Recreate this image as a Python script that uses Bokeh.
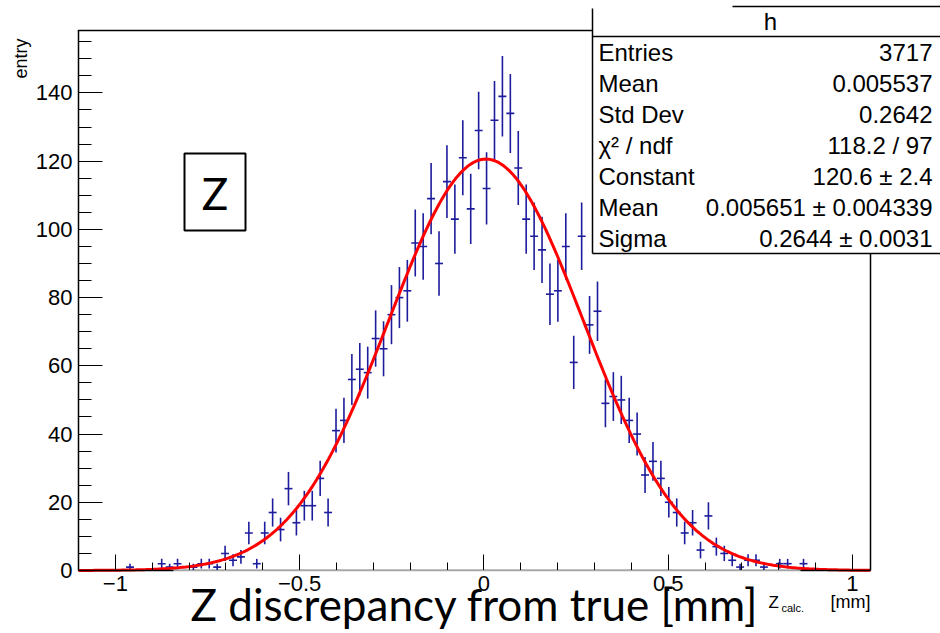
import numpy as np
from bokeh.plotting import figure
from bokeh.models import Range1d, SingleIntervalTicker, Label, BoxAnnotation, ColumnDataSource
from bokeh.embed import file_html
from bokeh.resources import INLINE

# ---------------- data ----------------
bin_low = -1.1
bin_width = 0.0215
counts = [0, 0, 0, 0, 0, 0, 1, 0, 0, 0,
          2, 1, 2, 0, 1, 2, 2, 1, 5, 3,
          4, 11, 2, 11, 17, 12, 24, 14, 19, 19,
          27, 17, 41, 44, 56, 59, 58, 68, 65, 75,
          80, 82, 96, 95, 109, 90, 114, 103, 121, 106,
          129, 112, 132, 139, 134, 118, 103, 98, 94, 81,
          82, 95, 61, 98, 72, 76, 49, 51, 50, 44,
          40, 28, 32, 27, 20, 17, 11, 14, 6, 16,
          7, 5, 3, 1, 3, 3, 1, 0, 2, 2,
          0, 2, 0, 0, 0, 0, 0, 0, 0, 0]
fit_constant = 120.6
fit_mean = 0.005651
fit_sigma = 0.2644

x_ticks = [-1, -0.5, 0, 0.5, 1]
x_tick_labels = ["\u22121", "\u22120.5", "0", "0.5", "1"]

stats_title = "h"
stats_names = ["Entries", "Mean", "Std Dev", "\u03c7\u00b2 / ndf", "Constant", "Mean", "Sigma"]
stats_values = ["3717", "0.005537", "0.2642", "118.2 / 97", "120.6 \u00b1 2.4",
                "0.005651 \u00b1 0.004339", "0.2644 \u00b1 0.0031"]

y_label = "entry"
x_label_main = "Z discrepancy from true [mm]"
x_label_root = "Z"
x_label_root_sub = "calc."
x_label_root_unit = "[mm]"
box_label = "Z"

# ---------------- geometry (reference pixels) ----------------
W, H = 940, 633
FL, FR, FT, FB = 78, 870, 30, 570      # ROOT frame
X0, X1 = -1.1, 1.049                   # histogram axis range
Y0, Y1 = 0.0, 158.3


def xd(px):
    return X0 + (px - FL) / (FR - FL) * (X1 - X0)


def yd(py):
    return Y0 + (FB - py) / (FB - FT) * (Y1 - Y0)


p = figure(width=W, height=H, output_backend="svg", toolbar_location=None,
           x_range=Range1d(xd(0), xd(W)), y_range=Range1d(yd(H), yd(0)),
           min_border=0, min_border_left=0, min_border_right=0,
           min_border_top=0, min_border_bottom=0)
p.background_fill_color = "white"
p.border_fill_color = "white"
p.xgrid.visible = False
p.ygrid.visible = False
p.outline_line_color = None

# ---------------- histogram with error bars ----------------
edges = bin_low + bin_width * np.arange(len(counts) + 1)
centers = 0.5 * (edges[:-1] + edges[1:])
n = np.array(counts, dtype=float)
err = np.sqrt(n)
m = n > 0
src = ColumnDataSource(dict(x=centers[m], y=n[m], lo=(n - err)[m], hi=(n + err)[m],
                            l=edges[:-1][m], r=edges[1:][m]))
blue = "#1c1c9c"
p.segment(x0="x", y0="lo", x1="x", y1="hi", source=src, line_color=blue, line_width=1.6)
p.segment(x0="l", y0="y", x1="r", y1="y", source=src, line_color=blue, line_width=1.6)

# ---------------- gaussian fit ----------------
xf = np.linspace(X0, X1, 400)
yf = fit_constant * np.exp(-0.5 * ((xf - fit_mean) / fit_sigma) ** 2)
p.line(xf, yf, line_color="red", line_width=3)

# ---------------- axes (placed on the ROOT frame) ----------------
for ax in (p.xaxis[0], p.yaxis[0]):
    ax.axis_line_color = "black"
    ax.axis_line_width = 1.5
    ax.major_tick_line_color = "black"
    ax.minor_tick_line_color = "black"
    ax.major_tick_out = 0
    ax.minor_tick_out = 0
    ax.major_label_text_font = "Liberation Sans"
    ax.major_label_text_font_size = "22px"
    ax.major_label_text_color = "black"

p.xaxis.fixed_location = Y0
p.xaxis.bounds = (X0, X1)
p.xaxis.ticker = SingleIntervalTicker(interval=0.5, num_minor_ticks=5)
p.xaxis.major_tick_in = 16
p.xaxis.minor_tick_in = 8
p.xaxis.major_label_standoff = 5
p.xaxis.major_label_overrides = dict(zip(x_ticks, x_tick_labels))

p.yaxis.fixed_location = X0
p.yaxis.bounds = (Y0, Y1)
p.yaxis.ticker = SingleIntervalTicker(interval=20, num_minor_ticks=4)
p.yaxis.major_tick_in = 24
p.yaxis.minor_tick_in = 13
p.yaxis.major_label_standoff = 6


# ---------------- annotations ----------------
def hline(x0, x1, y, w=1.5, color="black", alpha=1.0):
    p.add_layout(BoxAnnotation(left=xd(x0), right=xd(x1), top=yd(y - w / 2), bottom=yd(y + w / 2),
                               fill_color=color, fill_alpha=alpha, line_alpha=0))


def vline(x, y0, y1, w=1.5):
    p.add_layout(BoxAnnotation(left=xd(x - w / 2), right=xd(x + w / 2), top=yd(y0), bottom=yd(y1),
                               fill_color="black", fill_alpha=1, line_alpha=0))


# ROOT frame (top and right)
hline(FL - 0.75, FR + 0.75, FT)
vline(FR, FT, FB)

# pasted title box edge that greys the x axis line
hline(173, 800, 570.6, w=2.2, color="white", alpha=0.65)

# stats box
p.add_layout(BoxAnnotation(left=xd(592), right=xd(960), top=yd(-5), bottom=yd(253),
                           fill_color="white", fill_alpha=1, line_alpha=0))
hline(732, 960, 6)
vline(592, 8, 253)
hline(592, 960, 36)
hline(592, 960, 253)
font_stats = "24px"
p.add_layout(Label(x=xd(770), y=yd(21), text=stats_title, text_align="center", text_baseline="middle",
                   text_font="Liberation Sans", text_font_size=font_stats, text_color="black"))
row_top, row_h = 36, 31
for i, (nm, val) in enumerate(zip(stats_names, stats_values)):
    cy = row_top + row_h * (i + 0.5)
    p.add_layout(Label(x=xd(598), y=yd(cy), text=nm, text_align="left", text_baseline="middle",
                       text_font="Liberation Sans", text_font_size=font_stats, text_color="black"))
    p.add_layout(Label(x=xd(932), y=yd(cy), text=val, text_align="right", text_baseline="middle",
                       text_font="Liberation Sans", text_font_size=font_stats, text_color="black"))

# "Z" box
p.add_layout(BoxAnnotation(left=xd(184), right=xd(245), top=yd(153), bottom=yd(230),
                           fill_color="white", fill_alpha=1, line_color="black", line_alpha=1,
                           line_width=2))
p.add_layout(Label(x=xd(214.5), y=yd(192), text=box_label, text_align="center", text_baseline="middle",
                   text_font="Lato", text_font_size="44px", text_color="black"))

# y axis title
p.add_layout(Label(x=xd(20), y=yd(38), text=y_label, angle=np.pi / 2, text_align="right",
                   text_baseline="middle", text_font="Liberation Sans", text_font_size="18px",
                   text_color="black"))

# small ROOT x axis title  Z_calc. [mm]
p.add_layout(Label(x=xd(768), y=yd(602), text=x_label_root, text_align="left", text_baseline="middle",
                   text_font="Liberation Sans", text_font_size="17px", text_color="black"))
p.add_layout(Label(x=xd(781), y=yd(607), text=x_label_root_sub, text_align="left",
                   text_baseline="middle", text_font="Liberation Sans", text_font_size="11px",
                   text_color="black"))
p.add_layout(Label(x=xd(870), y=yd(601), text=x_label_root_unit, text_align="right",
                   text_baseline="middle", text_font="Liberation Sans", text_font_size="18px",
                   text_color="black"))

# big x title overlay
p.add_layout(Label(x=xd(190), y=yd(603), text=x_label_main, text_align="left", text_baseline="middle",
                   text_font="Lato", text_font_size="44px", text_color="black"))

open("out.html", "w").write(file_html(p, INLINE))
